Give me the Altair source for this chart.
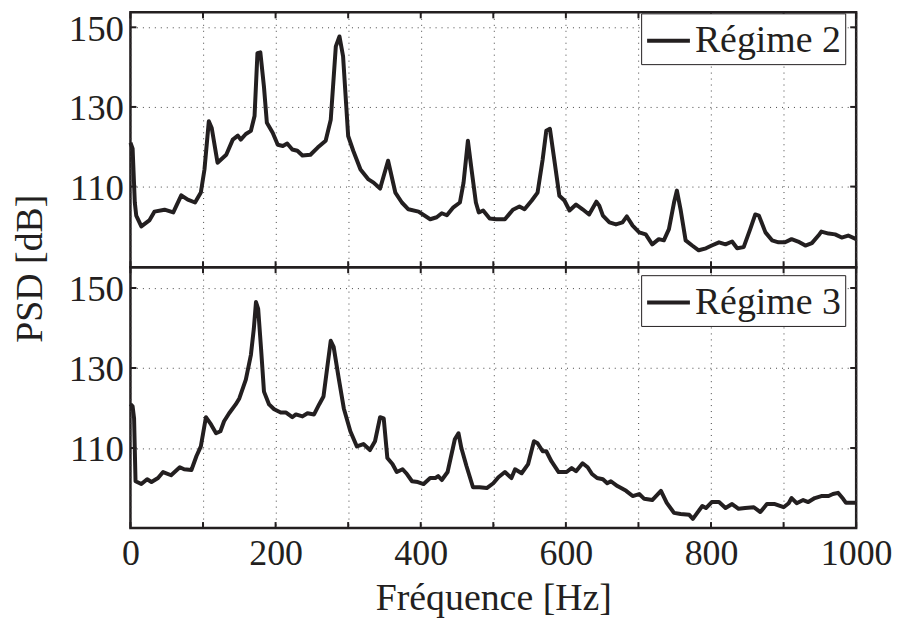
import altair as alt
import pandas as pd

# ---- data ----
freq2 = [0, 3, 6, 8, 15, 26, 33, 47, 59, 70, 79, 89, 97, 102, 108, 112, 120, 132, 141, 148,
         152, 159, 166, 171, 175, 179, 184, 188, 196, 203, 210, 216, 223, 230, 237, 248, 258,
         269, 276, 283, 288, 293, 300, 307, 317, 328, 335, 344, 355, 365, 374, 383, 397, 413,
         422, 429, 436, 445, 454, 459, 465, 470, 476, 480, 486, 495, 504, 516, 527, 536, 543,
         553, 561, 568, 573, 578, 584, 591, 598, 605, 614, 623, 632, 642, 646, 651, 660, 669,
         678, 684, 692, 701, 710, 719, 728, 735, 742, 749, 753, 758, 765, 774, 783, 793, 801,
         811, 820, 829, 836, 845, 854, 861, 866, 875, 884, 893, 902, 911, 920, 930, 939, 948,
         952, 962, 971, 980, 989, 1000]
psd2 = [121, 119.5, 106, 102.7, 100, 101.5, 103.7, 104.2, 103.5, 107.8, 106.7, 106, 108.5,
        114.3, 126.4, 124.7, 116, 118, 121.8, 122.8, 121.8, 123.2, 124, 127.7, 143.5, 143.7,
        135, 126, 123.5, 120.5, 120.2, 120.8, 119.3, 119, 117.8, 118, 119.8, 121.5, 126.8,
        145.2, 147.7, 142.7, 122.7, 119, 114.3, 111.8, 111, 109.5, 116.5, 108.5, 106, 104.3,
        103.7, 101.8, 102.3, 103.3, 102.8, 104.8, 106, 111, 121.5, 114.3, 106, 103.5, 104,
        102, 101.8, 101.8, 104.2, 105, 104.3, 106.5, 108.5, 116.8, 124, 124.5, 116.8, 107.7,
        106.5, 104, 105.5, 104.3, 103, 106.2, 105.2, 102.7, 101, 100.5, 101, 102.5, 100.2,
        98.5, 98, 95.5, 96.8, 96.5, 99.3, 106, 109, 104.3, 96.5, 95.2, 94, 94.5, 95.2, 96,
        95.5, 96.2, 94.5, 94.8, 99.3, 103, 102.7, 98.5, 96.5, 96, 96, 96.8, 96.2, 95.2, 95.8,
        97.7, 98.7, 98.2, 98, 97.2, 97.7, 96.8]

freq3 = [0, 3, 5, 7, 15, 23, 29, 38, 45, 56, 68, 74, 84, 91, 97, 104, 111, 118, 124, 129,
         136, 145, 150, 159, 166, 170, 173, 176, 180, 184, 191, 198, 207, 214, 223, 228, 237,
         244, 253, 260, 266, 271, 276, 280, 287, 294, 303, 312, 321, 330, 337, 344, 349, 354,
         361, 367, 375, 381, 388, 396, 404, 413, 420, 424, 429, 437, 447, 452, 456, 463, 472,
         481, 491, 500, 507, 516, 525, 530, 539, 548, 556, 561, 568, 573, 580, 590, 601, 608,
         614, 623, 630, 636, 643, 651, 657, 662, 671, 678, 683, 692, 701, 708, 719, 731, 739,
         749, 758, 770, 775, 781, 788, 793, 801, 811, 820, 829, 838, 847, 859, 868, 877, 888,
         900, 907, 911, 918, 927, 934, 943, 952, 962, 968, 975, 982, 986, 1000]
psd3 = [121, 120.4, 117.4, 101.7, 101, 102.2, 101.5, 102.5, 104, 103.2, 105.2, 104.7, 104.5,
        108, 110.4, 117.7, 115.9, 113.7, 114.2, 116.7, 118.7, 120.9, 122.4, 127.1, 133.3,
        139.8, 146.5, 144.8, 134.8, 124.1, 120.9, 119.7, 118.9, 118.9, 117.7, 118.4, 117.9,
        118.7, 118.4, 120.9, 122.9, 129.9, 136.8, 135.3, 127.4, 119.9, 114.2, 110.4, 111,
        109.5, 111.7, 117.7, 117.4, 107.5, 106, 104, 104.7, 103.5, 101.7, 101.5, 101, 102.5,
        102.5, 103, 102, 104, 112.2, 113.7, 110, 105.5, 100.2, 100.2, 100, 101.2, 102.7, 104,
        102.5, 104.7, 103.7, 106, 111.7, 111.2, 109.2, 109.2, 106.7, 104, 104, 105, 104.2,
        106.2, 105.2, 103.5, 102.5, 102.2, 101.2, 101.7, 100.5, 99.8, 99.3, 98, 98.5, 97.3,
        97, 99.3, 96.3, 93.8, 93.5, 93.3, 92.3, 93.8, 95.5, 95, 96.5, 96.5, 95, 96, 94.8, 95,
        95.2, 94, 96, 96, 95.2, 96.2, 97.5, 96.2, 97, 96.5, 97.5, 98, 98, 98.5, 98.8, 97.3,
        96.3, 96.3]

x_ticks = [0, 100, 200, 300, 400, 500, 600, 700, 800, 900, 1000]
y_ticks = [110, 130, 150]
series_names = ["Régime 2", "Régime 3"]

INK = "#231f20"
FONT = "Liberation Serif, Times New Roman, Times, serif"
W = 729
TICK = 6


def panel(freq, psd, name, ydomain, height, bottom, legend_y):
    df = pd.DataFrame({"f": freq, "psd": psd, "series": name})
    xscale = alt.Scale(domain=[0, 1000], nice=False, zero=False)
    yscale = alt.Scale(domain=ydomain, nice=False, zero=False)
    grid_kw = dict(grid=True, gridColor="#444444", gridDash=[1, 5], gridWidth=1,
                   ticks=False, domain=False, labelFont=FONT,
                   labelColor=INK, labelFlush=False, labelOverlap=False)
    if bottom:
        xaxis = alt.Axis(values=x_ticks, format="d", labelFontSize=36,
                         labelExpr="datum.value % 200 == 0 ? datum.label : ''",
                         labelPadding=9, title="Fréquence [Hz]", titleFont=FONT,
                         titleFontSize=38, titleFontWeight="normal", titleColor=INK,
                         titlePadding=8, **grid_kw)
        yaxis = alt.Axis(values=y_ticks, labelPadding=7, labelBaseline="top",
                         labelFontSize=37, labelOffset=-16, title=None, **grid_kw)
    else:
        xaxis = alt.Axis(values=x_ticks, labels=False, title=None, **grid_kw)
        yaxis = alt.Axis(values=y_ticks, labelPadding=7, labelBaseline="top",
                         labelFontSize=37, labelOffset=-16, title="PSD [dB]",
                         titleFont=FONT, titleFontSize=38, titleFontWeight="normal",
                         titleColor=INK, titleAngle=270, titleAlign="center",
                         titleBaseline="middle", titleX=-100, titleY=257, **grid_kw)
    X = alt.X("f:Q", scale=xscale, axis=xaxis)
    Y = alt.Y("psd:Q", scale=yscale, axis=yaxis)

    line = alt.Chart(df).mark_line(strokeWidth=4, strokeJoin="round").encode(
        x=X, y=Y,
        color=alt.Color("series:N",
                        scale=alt.Scale(domain=[name], range=[INK]),
                        legend=alt.Legend(title=None, orient="none", legendX=513,
                                          legendY=legend_y, symbolType="stroke",
                                          symbolSize=1849, symbolStrokeWidth=4,
                                          labelFont=FONT, labelFontSize=38,
                                          labelColor=INK, labelOffset=3, padding=4,
                                          labelExpr="datum.label + '\u00a0'",
                                          labelLimit=0, strokeColor=INK,
                                          fillColor="white", cornerRadius=0)))

    xt = pd.DataFrame({"f": x_ticks})
    yt = pd.DataFrame({"psd": y_ticks})
    tick_top = alt.Chart(xt).mark_rule(color=INK, strokeWidth=2).encode(
        x=X, y=alt.value(0), y2=alt.value(TICK))
    tick_bot = alt.Chart(xt).mark_rule(color=INK, strokeWidth=2).encode(
        x=X, y=alt.value(height), y2=alt.value(height - TICK))
    tick_left = alt.Chart(yt).mark_rule(color=INK, strokeWidth=2).encode(
        y=Y, x=alt.value(0), x2=alt.value(TICK))
    tick_right = alt.Chart(yt).mark_rule(color=INK, strokeWidth=2).encode(
        y=Y, x=alt.value(W), x2=alt.value(W - TICK))

    return alt.layer(tick_top, tick_bot, tick_left, tick_right, line).properties(
        width=W, height=height)


top = panel(freq2, psd2, series_names[0], [89.75, 153.75], 256, False, 1)
bot = panel(freq3, psd3, series_names[1], [90.0, 155.2], 262, True, 8)

chart = alt.vconcat(top, bot, spacing=0, bounds="flush").resolve_scale(
    color="independent").resolve_legend(color="independent").configure_view(
    stroke=INK, strokeWidth=2.5).properties(
    padding={"left": 2, "top": -1, "right": -1, "bottom": 0},
    background="white")

chart.save("out.html", embed_options={"renderer": "svg", "actions": False})
